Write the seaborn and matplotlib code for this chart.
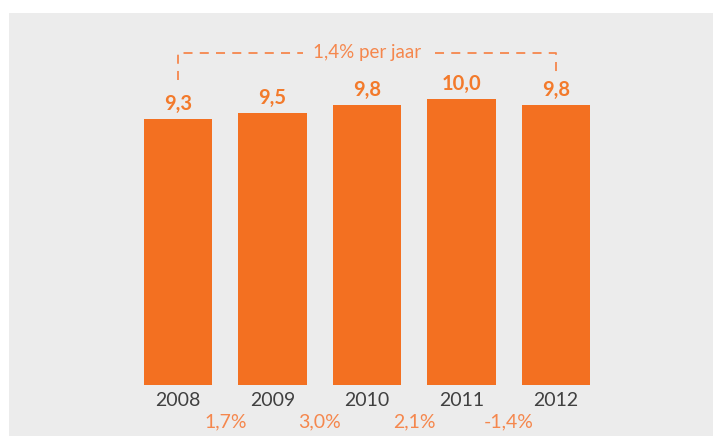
import matplotlib
matplotlib.use("Agg")
import matplotlib.pyplot as plt
import seaborn as sns
import pandas as pd

years = ["2008", "2009", "2010", "2011", "2012"]
values = [9.3, 9.5, 9.8, 10.0, 9.8]
growth = [1.7, 3.0, 2.1, -1.4]
annual_growth = 1.4

BAR = "#f37021"
LABEL = "#f37a2b"
LIGHT = "#f5874d"
GREY_TXT = "#404040"
PANEL = "#ececec"


def nl(v):
    return f"{v:.1f}".replace(".", ",")


sns.set_theme(style="white")
plt.rcParams["font.family"] = ["Lato", "DejaVu Sans"]

fig = plt.figure(figsize=(7.13, 4.36), dpi=100, facecolor="white")
ax = fig.add_axes([9 / 713, 0, 704 / 713, 423 / 436])
ax.set_facecolor(PANEL)

df = pd.DataFrame({"jaar": years, "waarde": values})
sns.barplot(data=df, x="jaar", y="waarde", color=BAR, saturation=1,
            width=0.72, linewidth=0, edgecolor="none", ax=ax)

ax.set_xlim(-1.788, 5.661)
ax.set_ylim(-1.783, 13.007)
for s in ax.spines.values():
    s.set_visible(False)
ax.set_yticks([])
ax.set_xticks([])
ax.set_xlabel("")
ax.set_ylabel("")

# value labels above the bars
for i, v in enumerate(values):
    ax.annotate(nl(v), (i, v), xytext=(0, 6.5), textcoords="offset points",
                ha="center", va="baseline", fontsize=14.5, fontweight="bold",
                color=LABEL)

# year labels under the bars
for i, y in enumerate(years):
    ax.annotate(y, (i, 0), xytext=(0, -15.3), textcoords="offset points",
                ha="center", va="baseline", fontsize=14, color=GREY_TXT)

# year-on-year change between bars
for i, g in enumerate(growth):
    ax.annotate(f"{nl(g)}%", (i + 0.5, 0), xytext=(0, -30.5),
                textcoords="offset points", ha="center", va="baseline",
                fontsize=14, color=LIGHT)

# dashed bracket with average annual growth
top = 11.62
dash = dict(color=LIGHT, lw=1.3, linestyle=(0, (5, 4)))
ax.plot([0, 0, 1.32], [10.66, top, top], **dash)
ax.plot([2.72, 4, 4], [top, top, 10.94], **dash)
ax.text(2, top, f"{nl(annual_growth)}% per jaar", ha="center", va="center",
        fontsize=13.5, color=LIGHT)

fig.savefig("out.png", dpi=100, facecolor="white")
